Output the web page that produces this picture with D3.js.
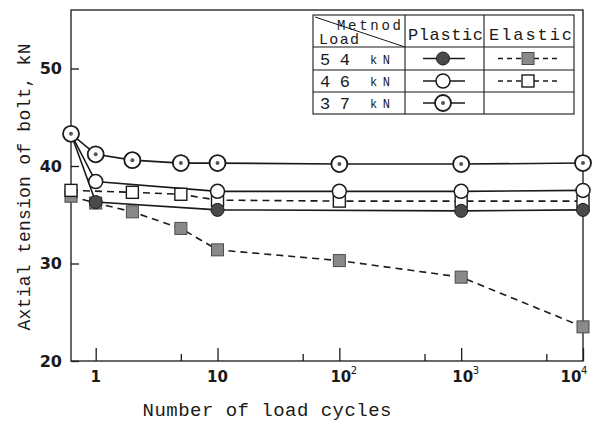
<!DOCTYPE html>
<html>
<head>
<meta charset="utf-8">
<script src="https://cdn.jsdelivr.net/npm/d3@7"></script>
<style>
  body { margin: 0; background: #fff; }
  svg { display: block; }
</style>
</head>
<body>
<div id="chart"></div>
<script>
// cycles: first point is the initial tension, drawn at the left edge of the log axis
const initCycle = 0.627;

const plastic37Cycles = [initCycle, 1, 2, 5, 10, 100, 1000, 10000];
const plastic37Values = [43.3, 41.2, 40.6, 40.3, 40.3, 40.2, 40.2, 40.3];

const plastic46Cycles = [initCycle, 1, 10, 100, 1000, 10000];
const plastic46Values = [43.3, 38.4, 37.4, 37.4, 37.4, 37.5];

const plastic54Cycles = [initCycle, 1, 10, 1000, 10000];
const plastic54Values = [43.3, 36.3, 35.5, 35.4, 35.5];

const elastic46Cycles = [initCycle, 2, 5, 10, 100, 1000, 10000];
const elastic46Values = [37.5, 37.3, 37.1, 36.5, 36.4, 36.4, 36.4];

const elastic54Cycles = [initCycle, 1, 2, 5, 10, 100, 1000, 10000];
const elastic54Values = [36.9, 36.2, 35.3, 33.6, 31.4, 30.3, 28.6, 23.5];

const yTicks = [20, 30, 40, 50];
const xMajorTicks = [1, 10, 100, 1000, 10000];
const xMinorTicks = [5, 50, 500, 5000];
const xTickLabels = [["1", ""], ["10", ""], ["10", "2"], ["10", "3"], ["10", "4"]];

const legendLoads = ["5 4", "4 6", "3 7"];

const W = 593, H = 439;
const plotLeft = 71, plotRight = 583, plotTop = 10, plotBottom = 361;

const svg = d3.select("#chart").append("svg")
    .attr("width", W)
    .attr("height", H);

const x = d3.scaleLog().domain([initCycle, 10000]).range([plotLeft, plotRight]);
const y = d3.scaleLinear().domain([20, 56]).range([plotBottom, plotTop]);

const ink = "#1a1a1a";
const numFont = "DejaVu Sans";
const monoFont = "Liberation Mono";

// frame
svg.append("rect")
    .attr("x", plotLeft).attr("y", plotTop)
    .attr("width", plotRight - plotLeft).attr("height", plotBottom - plotTop)
    .attr("fill", "none")
    .attr("stroke", ink)
    .attr("stroke-width", 1.3);

// x axis ticks (pointing inward)
const xMajor = svg.append("g")
    .attr("transform", `translate(0,${plotBottom})`)
    .call(d3.axisBottom(x).tickValues(xMajorTicks).tickSize(-13).tickFormat(""));
const xMinor = svg.append("g")
    .attr("transform", `translate(0,${plotBottom})`)
    .call(d3.axisBottom(x).tickValues(xMinorTicks).tickSize(-7).tickFormat(""));
[xMajor, xMinor].forEach(g => {
    g.select(".domain").remove();
    g.selectAll("line").attr("stroke", ink).attr("stroke-width", 1.3);
});

// x tick labels with superscripts; the last one is pulled left to stay on the page
xMajorTicks.forEach((v, i) => {
    const [base, sup] = xTickLabels[i];
    const last = i === xMajorTicks.length - 1;
    const cx = x(v) + (last ? -12 : (sup ? 1.5 : 0));
    svg.append("text")
        .attr("x", cx).attr("y", 382)
        .attr("text-anchor", "middle")
        .attr("font-family", numFont)
        .attr("font-weight", "bold")
        .attr("font-size", "15px")
        .attr("fill", ink)
        .text(base);
    if (sup) {
        svg.append("text")
            .attr("x", cx + 10).attr("y", 374)
            .attr("font-family", numFont)
            .attr("font-size", "10px")
            .attr("fill", ink)
            .text(sup);
    }
});

// y axis
const yAxis = svg.append("g")
    .attr("transform", `translate(${plotLeft},0)`)
    .call(d3.axisLeft(y).tickValues(yTicks).tickSize(-8).tickPadding(9));
yAxis.select(".domain").remove();
yAxis.selectAll("line").attr("stroke", ink).attr("stroke-width", 1.3);
yAxis.selectAll("text")
    .attr("font-family", numFont)
    .attr("font-weight", "bold")
    .attr("font-size", "16px")
    .attr("fill", ink);

// axis titles
svg.append("text")
    .attr("x", 267).attr("y", 416)
    .attr("text-anchor", "middle")
    .attr("font-family", monoFont)
    .attr("font-size", "19px")
    .attr("textLength", 249)
    .attr("fill", ink)
    .text("Number of load cycles");

svg.append("text")
    .attr("transform", "translate(30,187) rotate(-90)")
    .attr("text-anchor", "middle")
    .attr("font-family", monoFont)
    .attr("font-size", "18px")
    .attr("textLength", 287)
    .attr("fill", ink)
    .text("Axtial tension of bolt, kN");

// series lines
function pts(cycles, values) {
    return cycles.map((c, i) => [c, values[i]]);
}
const line = d3.line().x(d => x(d[0])).y(d => y(d[1]));

const series = [
    {data: pts(elastic54Cycles, elastic54Values), dash: "7,5", marker: "graySquare"},
    {data: pts(elastic46Cycles, elastic46Values), dash: "7,5", marker: "openSquare"},
    {data: pts(plastic54Cycles, plastic54Values), dash: null, marker: "filledCircle"},
    {data: pts(plastic46Cycles, plastic46Values), dash: null, marker: "openCircle"},
    {data: pts(plastic37Cycles, plastic37Values), dash: null, marker: "dotCircle"}
];

const lines = svg.append("g");
series.forEach(s => {
    lines.append("path")
        .datum(s.data)
        .attr("d", line)
        .attr("fill", "none")
        .attr("stroke", ink)
        .attr("stroke-width", 1.6)
        .attr("stroke-dasharray", s.dash);
});

function drawMarker(g, type, cx, cy) {
    if (type === "graySquare") {
        g.append("rect")
            .attr("x", cx - 6).attr("y", cy - 6).attr("width", 12).attr("height", 12)
            .attr("fill", "#8a8a8a").attr("stroke", "#4a4a4a").attr("stroke-width", 1);
    } else if (type === "openSquare") {
        g.append("rect")
            .attr("x", cx - 6).attr("y", cy - 6).attr("width", 12).attr("height", 12)
            .attr("fill", "#fff").attr("stroke", ink).attr("stroke-width", 1.4);
    } else if (type === "filledCircle") {
        g.append("circle").attr("cx", cx).attr("cy", cy).attr("r", 6.5)
            .attr("fill", "#4a4a4a").attr("stroke", ink).attr("stroke-width", 1);
    } else if (type === "openCircle") {
        g.append("circle").attr("cx", cx).attr("cy", cy).attr("r", 7)
            .attr("fill", "#fff").attr("stroke", ink).attr("stroke-width", 1.5);
    } else if (type === "dotCircle") {
        g.append("circle").attr("cx", cx).attr("cy", cy).attr("r", 8)
            .attr("fill", "#fff").attr("stroke", ink).attr("stroke-width", 1.8);
        g.append("circle").attr("cx", cx).attr("cy", cy).attr("r", 2)
            .attr("fill", "#555");
    }
}

const markers = svg.append("g");
series.forEach(s => {
    s.data.forEach(d => drawMarker(markers, s.marker, x(d[0]), y(d[1])));
});

// legend table
const lg = svg.append("g");
const lx0 = 313, lx1 = 405, lx2 = 484, lx3 = 574;
const rowsY = [15, 47, 70, 92, 114];

lg.append("rect")
    .attr("x", lx0).attr("y", rowsY[0])
    .attr("width", lx3 - lx0).attr("height", rowsY[4] - rowsY[0])
    .attr("fill", "#fff")
    .attr("stroke", ink).attr("stroke-width", 1.1);
rowsY.slice(1, 4).forEach(ry => {
    lg.append("line").attr("x1", lx0).attr("x2", lx3).attr("y1", ry).attr("y2", ry)
        .attr("stroke", ink).attr("stroke-width", 1.1);
});
[lx1, lx2].forEach(cx => {
    lg.append("line").attr("x1", cx).attr("x2", cx).attr("y1", rowsY[0]).attr("y2", rowsY[4])
        .attr("stroke", ink).attr("stroke-width", 1.1);
});
lg.append("line").attr("x1", lx0 + 2).attr("y1", rowsY[0] + 2).attr("x2", lx1).attr("y2", rowsY[1])
    .attr("stroke", ink).attr("stroke-width", 1);

lg.append("text").attr("x", 337).attr("y", 30)
    .attr("font-family", monoFont).attr("font-size", "14px")
    .attr("textLength", 64).attr("fill", ink).text("Metnod");
lg.append("text").attr("x", 319).attr("y", 44)
    .attr("font-family", monoFont).attr("font-size", "15px")
    .attr("textLength", 40).attr("fill", ink).text("Load");
lg.append("text").attr("x", 408).attr("y", 40)
    .attr("font-family", monoFont).attr("font-size", "17px")
    .attr("textLength", 75).attr("fill", ink).text("Plastic");
lg.append("text").attr("x", 489).attr("y", 40)
    .attr("font-family", monoFont).attr("font-size", "17px")
    .attr("textLength", 83).attr("fill", ink).text("Elastic");

const plasticMarkers = ["filledCircle", "openCircle", "dotCircle"];
const elasticMarkers = ["graySquare", "openSquare", null];

legendLoads.forEach((load, i) => {
    const cy = (rowsY[i + 1] + rowsY[i + 2]) / 2;
    lg.append("text").attr("x", 320).attr("y", cy + 6)
        .attr("font-family", monoFont).attr("font-size", "17px")
        .attr("textLength", 30).attr("fill", ink).text(load);
    lg.append("text").attr("x", 370).attr("y", cy + 5)
        .attr("font-family", monoFont).attr("font-size", "12px")
        .attr("textLength", 20).attr("fill", ink).text("kN");

    lg.append("line").attr("x1", 423).attr("x2", 465).attr("y1", cy).attr("y2", cy)
        .attr("stroke", ink).attr("stroke-width", 1.6);
    drawMarker(lg, plasticMarkers[i], 443, cy);

    if (elasticMarkers[i]) {
        lg.append("line").attr("x1", 498).attr("x2", 558).attr("y1", cy).attr("y2", cy)
            .attr("stroke", ink).attr("stroke-width", 1.5).attr("stroke-dasharray", "5,4");
        drawMarker(lg, elasticMarkers[i], 528, cy);
    }
});
</script>
</body>
</html>
